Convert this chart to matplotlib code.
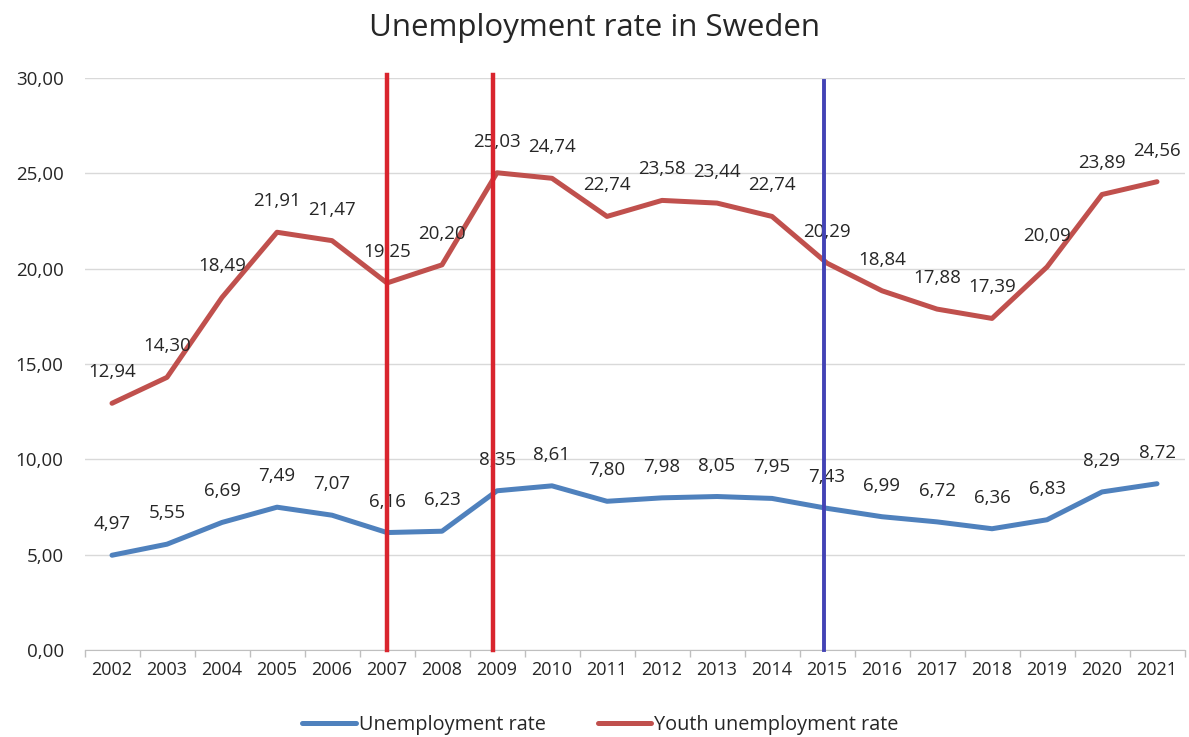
import matplotlib
matplotlib.use("Agg")
import matplotlib.pyplot as plt
from matplotlib.ticker import FuncFormatter, FixedLocator, NullFormatter

years = [2002, 2003, 2004, 2005, 2006, 2007, 2008, 2009, 2010, 2011,
         2012, 2013, 2014, 2015, 2016, 2017, 2018, 2019, 2020, 2021]
unemployment = [4.97, 5.55, 6.69, 7.49, 7.07, 6.16, 6.23, 8.35, 8.61, 7.80,
                7.98, 8.05, 7.95, 7.43, 6.99, 6.72, 6.36, 6.83, 8.29, 8.72]
youth = [12.94, 14.30, 18.49, 21.91, 21.47, 19.25, 20.20, 25.03, 24.74, 22.74,
         23.58, 23.44, 22.74, 20.29, 18.84, 17.88, 17.39, 20.09, 23.89, 24.56]
red_marks = [2007, 2009]
blue_marks = [2015]

plt.rcParams['font.family'] = ['Open Sans', 'DejaVu Sans']

fig = plt.figure(figsize=(11.89, 7.37), dpi=100)
ax = fig.add_axes([84.5 / 1189, 1 - 650 / 737, 1100 / 1189, (650 - 78) / 737])

x = list(range(len(years)))
blue = '#4f81bd'
red = '#c0504d'

ax.plot(x, unemployment, color=blue, lw=3.6, solid_capstyle='round', zorder=3, label='Unemployment rate')
ax.plot(x, youth, color=red, lw=3.6, solid_capstyle='round', zorder=3, label='Youth unemployment rate')

def fmt(v):
    return f"{v:.2f}".replace('.', ',')

for xi, v in zip(x, unemployment):
    ax.annotate(fmt(v), (xi, v), xytext=(0, 31), textcoords='offset pixels',
                ha='center', va='center', fontsize=13.5, color='#262626', zorder=4)
for xi, v in zip(x, youth):
    ax.annotate(fmt(v), (xi, v), xytext=(0, 31), textcoords='offset pixels',
                ha='center', va='center', fontsize=13.5, color='#262626', zorder=4)

red_off = {2007: 0.0, 2009: -0.07}
for yr in red_marks:
    ax.axvline(years.index(yr) + red_off[yr], ymin=0, ymax=1.005, color='#d9252e', lw=3.2, zorder=5, clip_on=False)
for yr in blue_marks:
    ax.axvline(years.index(yr) - 0.05, ymin=0, ymax=0.995, color='#4343b5', lw=2.8, zorder=5, clip_on=False)

ax.set_xlim(-0.5, len(years) - 0.5)
ax.set_ylim(0, 30)
ax.set_yticks([0, 5, 10, 15, 20, 25, 30])
ax.yaxis.set_major_formatter(FuncFormatter(lambda v, p: fmt(v)))
ax.set_xticks(x)
ax.set_xticklabels([str(y) for y in years])
ax.xaxis.set_minor_locator(FixedLocator([i - 0.5 for i in range(len(years) + 1)]))
ax.xaxis.set_minor_formatter(NullFormatter())
ax.tick_params(axis='x', which='major', length=0, pad=8, labelsize=13, labelcolor='#262626')
ax.tick_params(axis='x', which='minor', length=5, color='#bfbfbf', width=1)
ax.tick_params(axis='y', length=0, pad=15, labelsize=13.5, labelcolor='#262626')
ax.grid(axis='y', color='#d9d9d9', lw=1, zorder=0)
for s in ['top', 'right', 'left']:
    ax.spines[s].set_visible(False)
ax.spines['bottom'].set_color('#bfbfbf')
ax.set_axisbelow(True)

fig.text(0.5, 1 - 28 / 737, 'Unemployment rate in Sweden', ha='center', va='center',
         fontsize=22.5, color='#262626')

leg = fig.legend(loc='center', bbox_to_anchor=(0.505, 1 - 725 / 737), ncol=2, frameon=False,
                 fontsize=14.3, handlelength=2.7, columnspacing=2.6, handletextpad=0.15)
for t in leg.get_texts():
    t.set_color('#262626')

fig.savefig('out.png', dpi=100)
